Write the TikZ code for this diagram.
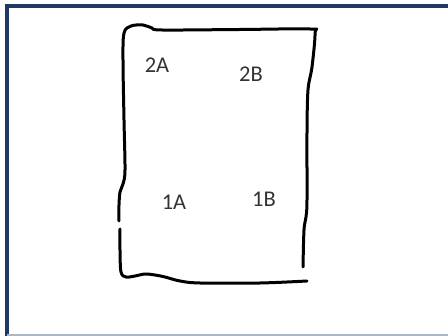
\documentclass[tikz,border=0pt]{standalone}
\usepackage{fontspec}
\setmainfont{Carlito}
\usetikzlibrary{positioning}

\definecolor{framenavy}{RGB}{31,56,100}
\definecolor{framegrey}{RGB}{172,182,200}

\begin{document}
\begin{tikzpicture}[
  x=1pt, y=-1pt,
  font=\fontsize{22.5}{26}\selectfont,
  pen/.style={line width=3pt, line cap=round, line join=round, draw=black},
  frm/.style={line width=4pt, draw=framenavy},
  lbl/.style={inner sep=0pt, text=black!80},
]
\useasboundingbox (0,0) rectangle (448,336);

% ---------- page frame ----------
\draw[frm] (6.5,336) -- (6.5,6.5) -- (448,6.5);
\draw[framegrey, line width=1.5pt] (6.5,335) -- (448,335);

% ---------- hand drawn outline ----------
\draw[pen] plot[smooth, tension=0.55] coordinates {
  (119,221) (119,205) (120,192) (123,184) (125,170) (124,120) (123,60) (124,33)
  (131,26) (143,25) (152,28) (162,30) (240,29.5) (310,29) (315,33)
  (312,67) (308,90) (307,133) (307,200) (306,217) (304,230) (303,267)};
\draw[pen] plot[smooth, tension=0.55] coordinates {
  (120,229) (120,250) (121,272) (126,277) (135,276) (145,274) (155,275)
  (165,277) (180,281) (200,283) (260,283) (307,281)};

% ---------- labels ----------
\node[lbl] (twoA) at (157,65) {2A};
\node[lbl] (twoB) at (251,74) {2B};
\node[lbl] (oneA) at (174,202) {1A};
\node[lbl] (oneB) at (264,199) {1B};

\end{tikzpicture}
\end{document}
